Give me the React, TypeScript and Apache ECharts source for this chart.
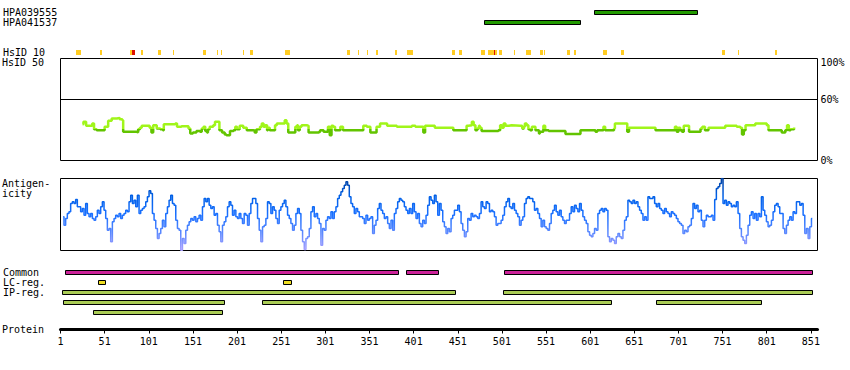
import React, { useEffect, useRef } from "react";
import * as echarts from "echarts";

// ---------- data ----------
const PROTEIN_LENGTH = 858;
const PROTEIN_TICK_START = 1;
const PROTEIN_TICK_STEP = 50;
const PROTEIN_TICKS = [1, 51, 101, 151, 201, 251, 301, 351, 401, 451, 501, 551, 601, 651, 701, 751, 801, 851];

const ANTIBODY_NAMES = ["HPA039555", "HPA041537"];
// [start, end, row]
const ANTIBODY_RANGES = [
  [605, 723, 0],
  [480, 590, 1],
];

const HSID10_LABEL = ["HsID 10"];
const HSID10_YELLOW = [
  [18, 23], [45, 47], [79, 81], [91, 93], [111, 114], [127, 129], [162, 165], [177, 179], [182, 183],
  [207, 208], [215, 218], [255, 260], [325, 328], [337, 339], [347, 349], [358, 360], [379, 382],
  [393, 400], [444, 447], [452, 455], [477, 481], [485, 491], [493, 495], [497, 501], [514, 515],
  [528, 533], [544, 547], [548, 549], [574, 578], [582, 585], [615, 617], [618, 620], [636, 639],
  [750, 754], [768, 769], [810, 812],
];
const HSID10_RED = [
  [81, 84],
  [491, 493],
];

const HSID50_LABEL_VALUES = [0, 60, 100];
const HSID50_COLOR_SPLIT = 31;
// [residue, identity %]
const HSID50 = [
  [26, 35.6], [27, 37.9], [30, 34.0], [36, 34.0], [37, 36.3], [39, 30.7], [42, 29.7], [50, 29.7], [51, 33.0],
  [55, 38.9], [59, 41.2], [65, 41.8], [68, 40.5], [71, 39.5], [72, 28.1], [87, 27.8], [89, 30.7], [91, 32.0],
  [93, 34.0], [100, 34.0], [102, 32.0], [104, 27.5], [106, 34.6], [110, 31.4], [114, 30.7], [117, 29.7],
  [118, 35.6], [131, 36.3], [133, 33.0], [138, 33.7], [144, 33.7], [146, 31.4], [148, 26.5], [151, 27.5],
  [155, 28.8], [159, 28.1], [161, 31.4], [163, 33.0], [165, 28.8], [167, 27.5], [168, 30.7], [170, 33.0],
  [174, 34.6], [176, 37.9], [180, 37.9], [181, 29.7], [184, 27.5], [187, 25.5], [189, 24.8], [193, 28.8],
  [197, 29.7], [199, 33.0], [201, 30.7], [204, 34.0], [208, 32.0], [212, 29.7], [219, 29.4], [221, 27.5],
  [223, 30.7], [227, 33.0], [229, 36.3], [231, 33.0], [233, 34.6], [235, 29.7], [236, 32.0], [238, 29.7],
  [242, 29.7], [244, 34.6], [246, 36.3], [253, 36.3], [255, 39.5], [257, 36.3], [259, 27.5], [265, 27.5],
  [267, 33.0], [269, 34.6], [270, 29.7], [272, 33.0], [274, 34.6], [280, 34.0], [282, 27.5], [293, 28.1],
  [295, 29.7], [299, 28.1], [304, 33.0], [306, 24.8], [308, 34.0], [310, 33.0], [312, 29.7], [314, 29.7],
  [318, 33.0], [320, 33.0], [321, 29.7], [342, 29.7], [344, 34.0], [348, 33.0], [352, 27.5], [357, 27.5],
  [359, 33.0], [363, 36.3], [367, 36.3], [371, 34.0], [380, 34.0], [382, 33.0], [395, 33.0], [399, 34.0],
  [403, 33.0], [410, 33.0], [412, 27.5], [414, 34.0], [423, 34.0], [425, 32.0], [444, 32.0], [446, 29.7],
  [459, 29.7], [461, 34.0], [463, 34.6], [467, 37.9], [469, 34.6], [471, 29.7], [473, 31.4], [475, 34.0],
  [476, 32.0], [478, 28.8], [497, 29.7], [499, 34.6], [501, 32.0], [503, 36.3], [505, 34.0], [509, 34.6],
  [512, 34.0], [522, 34.0], [524, 31.4], [526, 33.0], [527, 36.3], [529, 34.6], [531, 30.7], [533, 29.7],
  [535, 33.0], [539, 29.7], [543, 26.5], [544, 28.1], [548, 34.0], [550, 29.7], [554, 28.8], [571, 28.8],
  [573, 26.1], [588, 26.1], [590, 29.7], [605, 29.7], [607, 28.1], [609, 29.7], [614, 29.7], [616, 33.0],
  [618, 29.7], [624, 29.7], [628, 31.4], [629, 36.3], [641, 36.3], [643, 28.1], [645, 32.0], [673, 32.0],
  [675, 29.7], [696, 29.7], [697, 33.0], [699, 28.1], [701, 32.0], [703, 29.7], [705, 28.1], [707, 34.0],
  [711, 34.0], [713, 28.1], [724, 28.1], [726, 31.4], [728, 33.0], [731, 29.7], [735, 32.0], [752, 32.0],
  [754, 34.0], [765, 34.0], [767, 33.0], [771, 32.0], [773, 25.5], [775, 29.7], [777, 34.6], [786, 34.6],
  [788, 36.3], [800, 36.3], [801, 34.6], [803, 29.7], [817, 29.7], [818, 27.5], [822, 29.7], [824, 34.6],
  [826, 29.7], [828, 30.7], [832, 32.4],
];

// antigenicity score (0 = lowest, 216 = highest), sampled every ANTIGEN_STEP residues from ANTIGEN_START
const ANTIGEN_START = 4;
const ANTIGEN_STEP = 1.89;
const ANTIGEN_MAX = 216;
const ANTIGEN_VALUES = [
  101, 76, 96, 111, 116, 141, 146, 141, 153, 131, 131, 116, 126, 106, 141, 111, 101, 111, 96, 91,
  101, 121, 111, 131, 146, 121, 96, 61, 66, 26, 86, 96, 106, 101, 111, 96, 106, 111, 121, 116,
  146, 166, 141, 151, 131, 166, 111, 121, 126, 131, 146, 161, 179, 171, 111, 91, 66, 36, 51, 66,
  91, 71, 111, 131, 151, 166, 141, 136, 91, 66, 61, 1, 36, 21, 61, 76, 86, 96, 91, 101,
  86, 96, 106, 91, 131, 156, 146, 156, 136, 126, 131, 106, 111, 76, 56, 26, 76, 86, 101, 131,
  146, 136, 106, 121, 101, 96, 111, 96, 81, 111, 106, 76, 111, 141, 156, 156, 141, 96, 61, 26,
  71, 76, 96, 146, 141, 111, 131, 121, 96, 81, 121, 131, 141, 151, 131, 106, 96, 81, 61, 76,
  111, 126, 111, 61, 26, 3, 36, 41, 66, 116, 131, 101, 111, 96, 81, 16, 66, 61, 91, 101,
  96, 116, 96, 116, 131, 156, 166, 176, 186, 196, 206, 196, 161, 141, 131, 111, 126, 116, 101, 101,
  96, 81, 106, 91, 96, 101, 51, 76, 91, 126, 141, 121, 111, 96, 101, 81, 66, 91, 61, 111,
  126, 146, 156, 151, 146, 131, 121, 111, 126, 111, 141, 116, 96, 111, 81, 71, 91,
  81, 106, 136, 161, 151, 141, 166, 146, 106, 141, 121, 86, 71, 51, 66, 56, 96, 106, 121, 121,
  136, 116, 81, 61, 41, 56, 96, 91, 111, 101, 106, 101, 96, 111, 146, 131, 126, 146, 141, 116,
  121, 116, 101, 76, 81, 81, 91, 106, 131, 146, 156, 131, 126, 141, 121, 111, 101, 76, 91, 101,
  141, 156, 161, 156, 156, 146, 121, 126, 111, 96, 71, 91, 71, 66, 61, 81, 111, 121, 136, 116,
  106, 121, 101, 91, 81, 91, 91, 111, 131, 116, 136, 126, 116, 141, 121, 101, 91, 81, 56, 46,
  41, 51, 66, 61, 111, 121, 126, 116, 126, 121, 41, 26, 36, 31, 21, 41, 51, 41, 36, 61,
  91, 101, 151, 146, 141, 151, 141, 146, 131, 121, 111, 91, 101, 91, 161, 156, 156, 161, 141, 131,
  141, 126, 121, 111, 126, 116, 111, 101, 116, 111, 106, 96, 86, 81, 76, 51, 61, 56, 71, 76,
  96, 141, 126, 136, 116, 121, 91, 71, 91, 106, 101, 101, 106, 91, 153, 186, 191, 201, 216, 141,
  151, 136, 146, 141, 131, 136, 131, 146, 111, 66, 41, 31, 21, 46, 76, 106, 116, 96, 111, 91,
  111, 101, 161, 121, 106, 86, 71, 76, 91, 116, 136, 141, 131, 111, 111, 66, 51, 76, 91, 101,
  91, 116, 111, 146, 146, 136, 141, 106, 51, 66, 36, 71, 96,
];

const REGION_ROWS = ["Common", "LC-reg.", "IP-reg.", "IP-reg. (2)", "IP-reg. (3)"];
const REGION_LABELED_ROWS = 3;
// [start, end, row]
const COMMON = [
  [5, 384, 0],
  [392, 429, 0],
  [503, 853, 0],
];
const LC_REG = [
  [42, 52, 1],
  [252, 263, 1],
];
const IP_REG = [
  [1, 448, 2],
  [502, 853, 2],
  [3, 186, 3],
  [228, 625, 3],
  [675, 795, 3],
  [37, 184, 4],
];

// ---------- style ----------
const FONT = '"DejaVu Sans Mono", monospace';
const GRID_LEFT = 60.5;
const GRID_WIDTH = 757;

const rangeRenderer = (fill: string, height: number) => (_params: any, api: any) => {
  const row = api.value(2);
  const a = api.coord([api.value(0), row]);
  const b = api.coord([api.value(1), row]);
  const x0 = Math.round(a[0]) + 0.5;
  const x1 = Math.max(Math.round(b[0]) - 0.5, x0 + 1);
  return {
    type: "rect",
    shape: { x: x0, y: a[1] - height / 2, width: x1 - x0, height },
    style: { fill, stroke: "#000", lineWidth: 1 },
  };
};

const markRenderer = (fill: string, height: number) => (_params: any, api: any) => {
  const a = api.coord([api.value(0), 0]);
  const b = api.coord([api.value(1), 0]);
  const x0 = Math.round(a[0]);
  const x1 = Math.max(Math.round(b[0]), x0 + 1);
  return {
    type: "rect",
    shape: { x: x0, y: a[1] - height / 2, width: x1 - x0, height },
    style: { fill },
  };
};

const leftLabel = {
  show: true,
  align: "left",
  margin: GRID_LEFT - 2,
  interval: 0,
  fontFamily: FONT,
  fontSize: 10,
  color: "#000",
};

const hiddenAxisParts = {
  axisLine: { show: false },
  axisTick: { show: false },
  splitLine: { show: false },
};

function buildOption(): any {
  const grids = [
    { top: 7.5, height: 20 },
    { top: 50, height: 5 },
    { top: 58.5, height: 102, show: true, borderColor: "#000", borderWidth: 1 },
    { top: 178.5, height: 72, show: true, borderColor: "#000", borderWidth: 1 },
    { top: 267.5, height: 50 },
    { top: 319.5, height: 10 },
  ].map((g) => ({
    left: GRID_LEFT,
    width: GRID_WIDTH,
    containLabel: false,
    backgroundColor: "transparent",
    ...g,
  }));

  const xAxes = grids.map((_, i) =>
    i === 5
      ? {
          type: "value",
          gridIndex: i,
          min: PROTEIN_TICK_START,
          max: PROTEIN_LENGTH + 0.5,
          interval: PROTEIN_TICK_STEP,
          position: "bottom",
          axisLine: { show: true, onZero: false, lineStyle: { color: "#000", width: 3 } },
          axisTick: { show: true, length: 4, lineStyle: { color: "#000", width: 1 } },
          axisLabel: {
            show: true,
            margin: 7,
            fontFamily: FONT,
            fontSize: 10,
            color: "#000",
            showMinLabel: true,
            showMaxLabel: false,
            formatter: (v: number) => (PROTEIN_TICKS.includes(v) ? String(v) : ""),
          },
          splitLine: { show: false },
        }
      : { type: "value", gridIndex: i, min: 1, max: PROTEIN_LENGTH + 0.5, show: false }
  );

  const yAxes = [
    {
      type: "category",
      gridIndex: 0,
      data: ANTIBODY_NAMES,
      inverse: true,
      ...hiddenAxisParts,
      axisLabel: leftLabel,
    },
    {
      type: "category",
      gridIndex: 1,
      data: HSID10_LABEL,
      ...hiddenAxisParts,
      axisLabel: leftLabel,
    },
    {
      type: "value",
      gridIndex: 2,
      min: 0,
      max: 100,
      interval: 20,
      position: "right",
      ...hiddenAxisParts,
      axisLabel: {
        show: true,
        margin: 3,
        fontFamily: FONT,
        fontSize: 10,
        color: "#000",
        formatter: (v: number) =>
          HSID50_LABEL_VALUES.includes(v) ? (v === 100 ? "{top|" + v + "%}" : v + "%") : "",
        rich: {
          top: { padding: [8, 0, 0, 0], fontFamily: FONT, fontSize: 10, color: "#000" },
        },
      },
    },
    { type: "value", gridIndex: 3, min: 0, max: ANTIGEN_MAX, show: false },
    {
      type: "category",
      gridIndex: 4,
      data: REGION_ROWS,
      inverse: true,
      ...hiddenAxisParts,
      axisLabel: {
        ...leftLabel,
        formatter: (v: string, i: number) => (i < REGION_LABELED_ROWS ? v : ""),
      },
    },
    { type: "value", gridIndex: 5, min: 0, max: 1, show: false },
  ];

  const rangeSeries = (name: string, data: number[][], axis: number, fill: string) => ({
    type: "custom",
    name,
    xAxisIndex: axis,
    yAxisIndex: axis,
    data,
    encode: { x: [0, 1], y: 2 },
    renderItem: rangeRenderer(fill, 4),
    silent: true,
  });

  const series: any[] = [
    rangeSeries("Antibodies", ANTIBODY_RANGES, 0, "#229a00"),
    {
      type: "custom",
      name: "HsID 10",
      xAxisIndex: 1,
      yAxisIndex: 1,
      data: HSID10_YELLOW.map((r) => [r[0], r[1], 0]),
      encode: { x: [0, 1], y: 2 },
      renderItem: markRenderer("#ffcc22", 5),
      silent: true,
    },
    {
      type: "custom",
      name: "HsID 10 high",
      xAxisIndex: 1,
      yAxisIndex: 1,
      data: HSID10_RED.map((r) => [r[0], r[1], 0]),
      encode: { x: [0, 1], y: 2 },
      renderItem: markRenderer("#dd1100", 5),
      silent: true,
    },
    {
      type: "line",
      name: "HsID 50",
      xAxisIndex: 2,
      yAxisIndex: 2,
      data: HSID50,
      step: "end",
      showSymbol: false,
      symbol: "none",
      lineStyle: { width: 2.5 },
      silent: true,
      markLine: {
        silent: true,
        symbol: "none",
        label: { show: false },
        lineStyle: { color: "#000", width: 1, type: "solid" },
        data: [{ yAxis: 60 }],
      },
    },
    {
      type: "line",
      name: "Antigenicity",
      xAxisIndex: 3,
      yAxisIndex: 3,
      data: ANTIGEN_VALUES.map((v, i) => [ANTIGEN_START + i * ANTIGEN_STEP, v]),
      step: "middle",
      showSymbol: false,
      symbol: "none",
      lineStyle: { width: 1.5 },
      silent: true,
    },
    rangeSeries("Common", COMMON, 4, "#cc2299"),
    rangeSeries("LC-reg.", LC_REG, 4, "#eedd22"),
    rangeSeries("IP-reg.", IP_REG, 4, "#aacc55"),
  ];

  return {
    animation: false,
    backgroundColor: "#fff",
    textStyle: { fontFamily: FONT },
    grid: grids,
    xAxis: xAxes,
    yAxis: yAxes,
    visualMap: [
      {
        type: "piecewise",
        show: false,
        seriesIndex: 3,
        dimension: 1,
        pieces: [
          { min: 0, max: HSID50_COLOR_SPLIT, color: "#62c400" },
          { min: HSID50_COLOR_SPLIT, max: 100, color: "#a0f51a" },
        ],
      },
      {
        type: "continuous",
        show: false,
        seriesIndex: 4,
        dimension: 1,
        min: 0,
        max: ANTIGEN_MAX,
        inRange: { color: ["#a8a0ff", "#5a88ff", "#1a70ff", "#0060e8", "#0040a0"] },
      },
    ],
    graphic: [
      {
        type: "text",
        x: 2,
        y: 62.7,
        silent: true,
        style: { text: "HsID 50", font: "10px " + FONT, fill: "#000", verticalAlign: "middle" },
      },
      {
        type: "text",
        x: 2,
        y: 188.3,
        silent: true,
        style: {
          text: "Antigen-\nicity",
          font: "10px " + FONT,
          lineHeight: 10,
          fill: "#000",
          verticalAlign: "middle",
        },
      },
      {
        type: "text",
        x: 2,
        y: 329.7,
        silent: true,
        style: { text: "Protein", font: "10px " + FONT, fill: "#000", verticalAlign: "middle" },
      },
    ],
    series,
  };
}

export default function App() {
  const ref = useRef<HTMLDivElement>(null);
  useEffect(() => {
    if (!ref.current) return;
    const chart = echarts.init(ref.current, undefined, { renderer: "svg" });
    chart.setOption(buildOption());
    return () => chart.dispose();
  }, []);
  return (
    <div
      ref={ref}
      style={{ position: "absolute", left: 0, top: 0, width: 850, height: 370, background: "#fff" }}
    />
  );
}
